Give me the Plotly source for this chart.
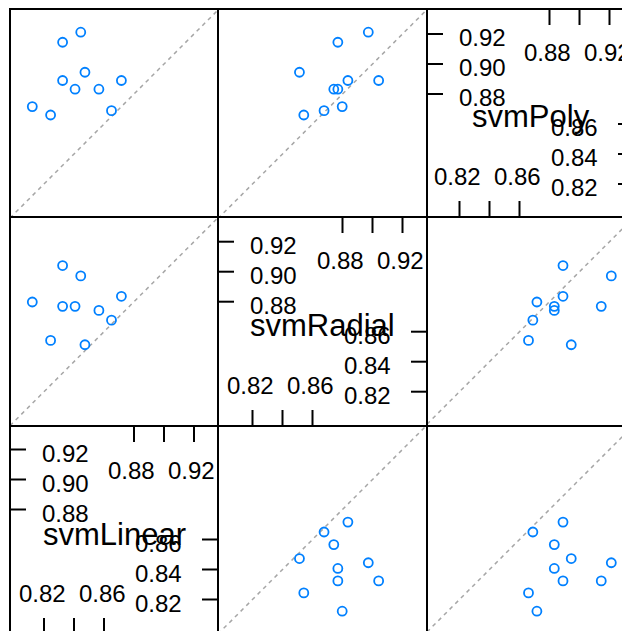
import plotly.graph_objects as go

# ---- data (accuracy of 10 resamples per model) ----
model_names = ["svmLinear", "svmRadial", "svmPoly"]
svmLinear = [0.8445, 0.8324, 0.8473, 0.8324, 0.8407, 0.8566, 0.8716, 0.8122, 0.8244, 0.8650]
svmRadial = [0.8972, 0.8769, 0.8513, 0.9041, 0.8769, 0.8742, 0.8836, 0.8798, 0.8542, 0.8677]
svmPoly = [0.9212, 0.9145, 0.8945, 0.8890, 0.8832, 0.8832, 0.8890, 0.8716, 0.8660, 0.8689]
model_values = {"svmLinear": svmLinear, "svmRadial": svmRadial, "svmPoly": svmPoly}

ticks_low = [0.82, 0.84, 0.86]
ticks_high = [0.88, 0.90, 0.92]
bottom_labels = ["0.82", "", "0.86"]
top_labels = ["0.88", "", "0.92"]
left_labels = ["0.88", "0.90", "0.92"]
right_labels = ["0.82", "0.84", "0.86"]

# ---- geometry (page pixels) ----
PAGE_OFF = 8                      # default body margin of the html page
VIEW_W, VIEW_H = 630, 631
W, H = VIEW_W - PAGE_OFF, VIEW_H - PAGE_OFF
BX = [10, 218, 427, 634]          # panel border columns (page px)
BY = [9, 217, 426, 634]           # panel border rows (page px)
OFF_X = [34, 34.5, 32.5]          # px from left border to the 0.82 position
OFF_Y = [33, 34.3, 34.5]          # px from bottom border to the 0.82 position
PX_PER_UNIT = 1500.0
REF_VAL = 0.82
TICK_LEN = 16
FONT = "Liberation Sans, Arial, sans-serif"
POINT_COLOR = "#0080ff"

col_vars = model_names
row_vars = model_names[::-1]


def vx(c, px):
    return REF_VAL + (px - BX[c] - OFF_X[c]) / PX_PER_UNIT


def vy(r, py):
    return REF_VAL + (BY[r + 1] - OFF_Y[r] - py) / PX_PER_UNIT


fig = go.Figure()
annotations = []
shapes = []
layout = dict(width=W, height=H, margin=dict(l=0, r=0, t=0, b=0, pad=0),
              paper_bgcolor="white", plot_bgcolor="white", showlegend=False,
              font=dict(family=FONT, color="black"))
base_axis = dict(showgrid=False, zeroline=False, fixedrange=True, ticks="",
                 showticklabels=False, showline=True, linecolor="black",
                 linewidth=2, mirror=False)
label_font = dict(size=24, family=FONT, color="black")

for r in range(3):
    for c in range(3):
        k = r * 3 + c + 1
        dx0, dx1 = BX[c] + 1, min(BX[c + 1] + 1, VIEW_W)
        dy0, dy1 = BY[r] + 1, min(BY[r + 1] + 1, VIEW_H)
        xa = dict(base_axis)
        xa.update(domain=[(dx0 - PAGE_OFF) / W, (dx1 - PAGE_OFF) / W],
                  range=[vx(c, dx0), vx(c, dx1)], anchor=f"y{k}", side="top")
        ya = dict(base_axis)
        ya.update(domain=[1 - (dy1 - PAGE_OFF) / H, 1 - (dy0 - PAGE_OFF) / H],
                  range=[vy(r, dy1), vy(r, dy0)], anchor=f"x{k}", side="left")
        layout[f"xaxis{k}"] = xa
        layout[f"yaxis{k}"] = ya
        xs, ys = f"x{k}", f"y{k}"
        xd, yd = f"x{k} domain", f"y{k} domain"

        if row_vars[r] == col_vars[c]:
            right_gap = BX[c + 1] - dx1      # border position relative to domain right edge
            bottom_gap = BY[r + 1] - dy1     # border position relative to domain bottom edge
            tick_line = dict(color="black", width=2)
            for v, lab in zip(ticks_high, left_labels):
                shapes.append(dict(type="line", xref=xd, yref=ys, xsizemode="pixel",
                                   xanchor=0, x0=-1, x1=TICK_LEN - 1, y0=v, y1=v,
                                   line=tick_line))
                annotations.append(dict(text=lab, xref=xd, yref=ys, x=0, y=v,
                                        xanchor="left", yanchor="middle",
                                        xshift=29, yshift=-3.5, showarrow=False,
                                        font=label_font))
            for v, lab in zip(ticks_low, right_labels):
                shapes.append(dict(type="line", xref=xd, yref=ys, xsizemode="pixel",
                                   xanchor=1, x0=right_gap, x1=right_gap - TICK_LEN,
                                   y0=v, y1=v, line=tick_line))
                annotations.append(dict(text=lab, xref=xd, yref=ys, x=1, y=v,
                                        xanchor="right", yanchor="middle",
                                        xshift=right_gap - 34, yshift=-3.5, showarrow=False,
                                        font=label_font))
            for v, lab in zip(ticks_high, top_labels):
                shapes.append(dict(type="line", xref=xs, yref=yd, ysizemode="pixel",
                                   yanchor=1, y0=1, y1=1 - TICK_LEN, x0=v, x1=v,
                                   line=tick_line))
                if lab:
                    annotations.append(dict(text=lab, xref=xs, yref=yd, x=v, y=1,
                                            xanchor="center", yanchor="top",
                                            xshift=-2.5, yshift=-27.5, showarrow=False,
                                            font=label_font))
            for v, lab in zip(ticks_low, bottom_labels):
                shapes.append(dict(type="line", xref=xs, yref=yd, ysizemode="pixel",
                                   yanchor=0, y0=-bottom_gap, y1=-bottom_gap + TICK_LEN,
                                   x0=v, x1=v, line=tick_line))
                if lab:
                    annotations.append(dict(text=lab, xref=xs, yref=yd, x=v, y=0,
                                            xanchor="center", yanchor="bottom",
                                            xshift=-2, yshift=25 - bottom_gap, showarrow=False,
                                            font=label_font))
            cx = vx(c, (BX[c] + BX[c + 1]) / 2)
            cy = vy(r, (BY[r] + BY[r + 1]) / 2)
            annotations.append(dict(text=row_vars[r], xref=xs, yref=ys, x=cx, y=cy,
                                    xanchor="center", yanchor="middle", yshift=-4,
                                    showarrow=False,
                                    font=dict(size=31, family=FONT, color="black")))
        else:
            diag_ends = [vx(c, BX[c]), vx(c, BX[c + 1])]
            fig.add_trace(go.Scatter(
                x=diag_ends, y=diag_ends, xaxis=xs, yaxis=ys, mode="lines",
                line=dict(color="#a6a6a6", width=1.5, dash="4px,4px"), hoverinfo="skip"))
            fig.add_trace(go.Scatter(
                x=model_values[col_vars[c]], y=model_values[row_vars[r]],
                xaxis=xs, yaxis=ys, mode="markers",
                marker=dict(symbol="circle-open", size=9, color=POINT_COLOR,
                            line=dict(width=1.8, color=POINT_COLOR))))

layout["annotations"] = annotations
layout["shapes"] = shapes
fig.update_layout(**layout)
fig.write_html("out.html")
